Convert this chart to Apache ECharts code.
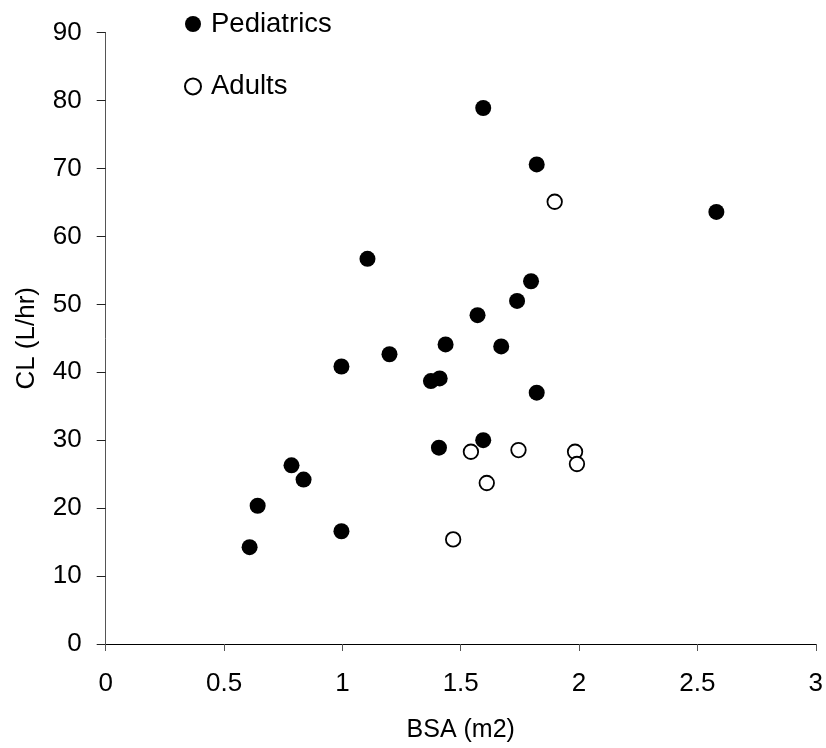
<!DOCTYPE html>
<html>
<head>
<meta charset="utf-8">
<script src="https://cdn.jsdelivr.net/npm/echarts@6/dist/echarts.min.js"></script>
<style>
html,body{margin:0;padding:0;background:#fff;}
#chart{width:826px;height:748px;}
</style>
</head>
<body>
<div id="chart"></div>
<script>
// Data
var pediatricsBSA = [1.595, 1.821, 2.580, 1.797, 1.738, 1.571, 1.106, 0.996, 1.199, 1.436, 1.671, 1.374, 1.411, 1.821, 1.408, 1.595, 0.785, 0.836, 0.642, 0.608, 0.996];
var pediatricsCL  = [78.9, 70.6, 63.6, 53.4, 50.5, 48.4, 56.7, 40.85, 42.65, 44.1, 43.8, 38.7, 39.1, 37.0, 28.9, 30.0, 26.3, 24.2, 20.35, 14.25, 16.6];
var adultsBSA = [1.897, 1.543, 1.744, 1.983, 1.991, 1.610, 1.468];
var adultsCL  = [65.1, 28.3, 28.55, 28.3, 26.5, 23.7, 15.4];
var xTicks = [0, 0.5, 1, 1.5, 2, 2.5, 3];
var yTicks = [0, 10, 20, 30, 40, 50, 60, 70, 80, 90];

function pairs(xs, ys){ return xs.map(function(x,i){ return [x, ys[i]]; }); }

var font = 'Liberation Sans, Arial, sans-serif';
var chart = echarts.init(document.getElementById('chart'), null, {renderer:'canvas'});
chart.setOption({
  animation: false,
  backgroundColor: '#fff',
  grid: {left: 105.7, right: 8.7, top: 32.6, bottom: 100.7, containLabel: false},
  legend: {
    orient: 'vertical',
    left: 179, top: 5, padding: 5,
    itemWidth: 16, itemHeight: 16, itemGap: 34.4,
    textStyle: {fontFamily: font, fontSize: 27.5, color: '#000', padding: [0,0,0,5]},
    data: ['Pediatrics', 'Adults']
  },
  xAxis: {
    type: 'value', min: xTicks[0], max: xTicks[xTicks.length-1], interval: 0.5,
    name: 'BSA (m2)', nameLocation: 'middle', nameGap: 74,
    nameTextStyle: {fontFamily: font, fontSize: 25, color: '#000'},
    axisLine: {show: true, onZero: false, lineStyle: {color: '#000', width: 1}},
    axisTick: {show: true, inside: false, length: 7, lineStyle: {color: '#555'}},
    axisLabel: {fontFamily: font, fontSize: 26, color: '#000', margin: 27},
    splitLine: {show: false}
  },
  yAxis: {
    type: 'value', min: yTicks[0], max: yTicks[yTicks.length-1], interval: 10,
    name: 'CL (L/hr)', nameLocation: 'middle', nameGap: 66, nameRotate: 90,
    nameTextStyle: {fontFamily: font, fontSize: 26, color: '#000'},
    axisLine: {show: true, onZero: false, lineStyle: {color: '#555', width: 1}},
    axisTick: {show: true, inside: false, length: 9, lineStyle: {color: '#222'}},
    axisLabel: {fontFamily: font, fontSize: 26, color: '#000', margin: 24},
    splitLine: {show: false}
  },
  series: [
    {
      name: 'Pediatrics', type: 'scatter', symbol: 'circle', symbolSize: 16,
      itemStyle: {color: '#000', opacity: 1},
      data: pairs(pediatricsBSA, pediatricsCL)
    },
    {
      name: 'Adults', type: 'scatter', symbol: 'circle', symbolSize: 14.5,
      itemStyle: {color: '#fff', borderColor: '#000', borderWidth: 1.8, opacity: 1},
      data: pairs(adultsBSA, adultsCL)
    }
  ]
});
</script>
</body>
</html>
